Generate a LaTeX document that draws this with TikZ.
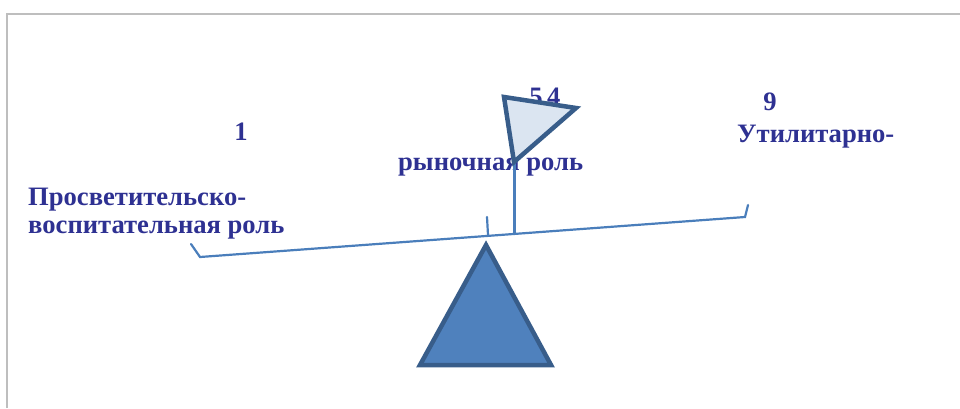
\documentclass[tikz,border=0pt]{standalone}
\usepackage{fontspec}
\setmainfont{Liberation Serif}
\definecolor{txtblue}{RGB}{46,49,146}
\definecolor{beamblue}{RGB}{74,126,187}
\definecolor{fulfill}{RGB}{79,129,189}
\definecolor{fulline}{RGB}{56,93,138}
\definecolor{flagfill}{RGB}{219,229,241}
\definecolor{framegray}{RGB}{190,190,190}
\begin{document}
\begin{tikzpicture}[x=1pt,y=-1pt,
  lbl/.style={text=txtblue,font=\fontsize{26.6}{28}\selectfont\bfseries,inner sep=0pt,align=left},
  beamline/.style={draw=beamblue,line width=2.2pt,line cap=round}]
\useasboundingbox (0,0) rectangle (960,408);
% frame
\draw[framegray,line width=2pt] (7,408) -- (7,14) -- (960,14);
% labels
\node[lbl,anchor=base] (n1) at (241,140) {1};
\node[lbl,anchor=base west] (l1) at (28,205) {Просветительско-};
\node[lbl,anchor=base west] (l2) at (28,233) {воспитательная роль};
\node[lbl,anchor=base] (n54) at (545,105) {5\,4};
\node[lbl,anchor=base west] (l3) at (398,170) {рыночная роль};
\node[lbl,anchor=base] (n9) at (770,110) {9};
\node[lbl,anchor=base west] (l4) at (737,142) {Утилитарно-};
% beam
\coordinate (bl) at (200,257);
\coordinate (br) at (745,217);
\coordinate (hl) at (191,244);
\coordinate (hr) at (748,205);
\coordinate (tk1) at (487,217);
\coordinate (tk2) at (488,235);
\coordinate (pb) at (514,234);
\coordinate (pt) at (514,160);
\draw[beamline] (hl) -- (bl) -- (br) -- (hr);
\draw[beamline] (tk1) -- (tk2);
\draw[beamline,line width=3pt,line cap=butt] (pb) -- (pt);
% flag
\coordinate (f1) at (504,97);
\coordinate (f2) at (576,108);
\coordinate (f3) at (514,162);
\draw[fill=flagfill,draw=fulline,line width=4.5pt,line join=miter] (f1) -- (f2) -- (f3) -- cycle;
% fulcrum
\coordinate (a1) at (486,245);
\coordinate (a2) at (420,365);
\coordinate (a3) at (551,365);
\draw[fill=fulfill,draw=fulline,line width=4.5pt,line join=miter] (a1) -- (a2) -- (a3) -- cycle;
\end{tikzpicture}
\end{document}
